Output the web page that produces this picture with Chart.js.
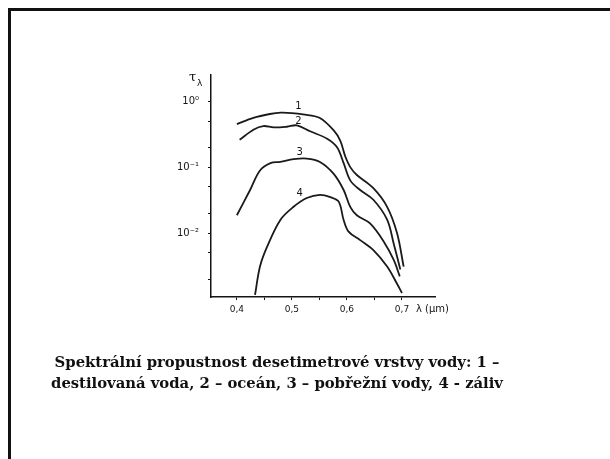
<!doctype html>
<html>
<head>
<meta charset="utf-8">
<title>Spektrální propustnost</title>
<script src="https://cdn.jsdelivr.net/npm/chart.js@4"></script>
<style>
  html, body { margin: 0; padding: 0; background: #fff; }
  body { width: 610px; height: 459px; position: relative; overflow: hidden; }
  #frame {
    position: absolute; left: 8px; top: 8px; width: 700px; height: 600px;
    border-left: 3px solid #111; border-top: 3px solid #111;
  }
  #wrap { position: absolute; left: 0; top: 0; width: 610px; height: 459px; }
  #caption {
    position: absolute; left: 0; top: 351px; width: 554px;
    text-align: center; font-family: "DejaVu Serif", serif; font-weight: bold;
    font-size: 14.8px; line-height: 21px; color: #111; white-space: nowrap;
  }
</style>
</head>
<body>
<div id="frame"></div>
<div id="wrap"><canvas id="chart1"></canvas></div>
<div id="caption">Spektrální propustnost desetimetrové vrstvy vody: 1 –<br>destilovaná voda, 2 – oceán, 3 – pobřežní vody, 4 - záliv</div>
<script>
// vlnova delka (um) a propustnost
var lambda1 = [0.40, 0.43, 0.46, 0.48, 0.50, 0.52, 0.55, 0.576, 0.588, 0.597, 0.606, 0.618, 0.648, 0.673, 0.691, 0.703];
var tau1    = [0.45, 0.56, 0.64, 0.67, 0.66, 0.63, 0.56, 0.36, 0.25, 0.145, 0.10, 0.076, 0.048, 0.025, 0.010, 0.0031];

var lambda2 = [0.405, 0.43, 0.448, 0.467, 0.491, 0.509, 0.533, 0.564, 0.582, 0.594, 0.606, 0.624, 0.648, 0.673, 0.685, 0.697];
var tau2    = [0.26, 0.37, 0.42, 0.40, 0.41, 0.43, 0.35, 0.27, 0.20, 0.115, 0.063, 0.045, 0.032, 0.016, 0.0069, 0.0028];

var lambda3 = [0.40, 0.424, 0.442, 0.461, 0.479, 0.503, 0.527, 0.551, 0.576, 0.594, 0.606, 0.618, 0.642, 0.667, 0.685, 0.696];
var tau3    = [0.0186, 0.045, 0.089, 0.115, 0.12, 0.132, 0.135, 0.12, 0.079, 0.045, 0.025, 0.0186, 0.014, 0.0074, 0.0039, 0.0022];

var lambda4 = [0.433, 0.442, 0.455, 0.479, 0.503, 0.527, 0.551, 0.57, 0.585, 0.594, 0.603, 0.624, 0.648, 0.673, 0.691, 0.70];
var tau4    = [0.00115, 0.0031, 0.0062, 0.0158, 0.025, 0.034, 0.038, 0.035, 0.030, 0.0158, 0.0105, 0.0078, 0.0055, 0.0031, 0.0017, 0.00123];

var xTicks = [0.4, 0.45, 0.5, 0.55, 0.6, 0.65, 0.7];
var xTickLabels = {"0.4": "0,4", "0.5": "0,5", "0.6": "0,6", "0.7": "0,7"};
var yTicks = [0.002, 0.005, 0.01, 0.02, 0.05, 0.1, 0.2, 0.5, 1];
var yTickLabels = {"1": "10⁰", "0.1": "10⁻¹", "0.01": "10⁻²"};

var curveNames = ["1", "2", "3", "4"];
// kde stoji cislo krivky (x, y v datovych souradnicich)
var curveLabelPos = [[0.512, 0.84], [0.512, 0.49], [0.514, 0.165], [0.514, 0.04]];

function pts(xs, ys) {
  var out = [];
  for (var i = 0; i < xs.length; i++) out.push({x: xs[i], y: ys[i]});
  return out;
}

function mkSet(name, xs, ys) {
  return {
    label: name,
    data: pts(xs, ys),
    borderColor: '#1a1a1a',
    borderWidth: 1.8,
    pointRadius: 0,
    fill: false,
    tension: 0.35
  };
}

var textPlugin = {
  id: 'texty',
  afterDraw: function(chart) {
    var ctx = chart.ctx;
    var xs = chart.scales.x, ys = chart.scales.y;
    ctx.save();
    ctx.fillStyle = '#151515';
    ctx.font = '10px "DejaVu Sans"';
    ctx.textAlign = 'center';
    ctx.textBaseline = 'middle';
    for (var i = 0; i < curveNames.length; i++) {
      ctx.fillText(curveNames[i], xs.getPixelForValue(curveLabelPos[i][0]), ys.getPixelForValue(curveLabelPos[i][1]));
    }
    // osa x - jednotka
    ctx.textAlign = 'left';
    ctx.font = '10px "DejaVu Sans"';
    ctx.fillText('λ (μm)', xs.getPixelForValue(0.7) + 14, xs.bottom - xs.height + 12);
    // osa y - veličina
    ctx.font = '13px "DejaVu Serif"';
    ctx.fillText('τ', ys.right - 22, ys.top + 3);
    ctx.font = '9px "DejaVu Sans"';
    ctx.fillText('λ', ys.right - 14, ys.top + 9);
    ctx.restore();
  }
};

window.onload = function() {
  var ctx = document.getElementById('chart1').getContext('2d');
  new Chart(ctx, {
    type: 'line',
    data: {
      datasets: [
        mkSet('1', lambda1, tau1),
        mkSet('2', lambda2, tau2),
        mkSet('3', lambda3, tau3),
        mkSet('4', lambda4, tau4)
      ]
    },
    options: {
      responsive: true,
      maintainAspectRatio: false,
      animation: false,
      layout: { padding: { left: 0, right: 175, top: 75, bottom: 0 } },
      plugins: { legend: { display: false }, tooltip: { enabled: false } },
      scales: {
        x: {
          type: 'linear',
          min: 0.353, max: 0.76,
          afterFit: function(s) { s.height = 162; },
          afterBuildTicks: function(s) { s.ticks = xTicks.map(function(v) { return {value: v}; }); },
          border: { display: true, color: '#151515', width: 1.5 },
          grid: { drawOnChartArea: false, drawTicks: true, tickLength: 3, color: '#151515' },
          ticks: {
            autoSkip: false, maxRotation: 0, padding: 4, color: '#151515',
            font: { family: 'DejaVu Sans', size: 9 },
            callback: function(v) { return xTickLabels[String(Math.round(v * 100) / 100)] || ''; }
          }
        },
        y: {
          type: 'logarithmic',
          min: 0.00107, max: 2.5,
          afterFit: function(s) { s.width = 211; },
          afterBuildTicks: function(s) { s.ticks = yTicks.map(function(v) { return {value: v}; }); },
          border: { display: true, color: '#151515', width: 1.5 },
          grid: { drawOnChartArea: false, drawTicks: true, tickLength: 3, color: '#151515' },
          ticks: {
            autoSkip: false, padding: 9, color: '#151515',
            font: { family: 'DejaVu Sans', size: 10 },
            callback: function(v) { return yTickLabels[String(v)] || ''; }
          }
        }
      }
    },
    plugins: [textPlugin]
  });
};
</script>
</body>
</html>
